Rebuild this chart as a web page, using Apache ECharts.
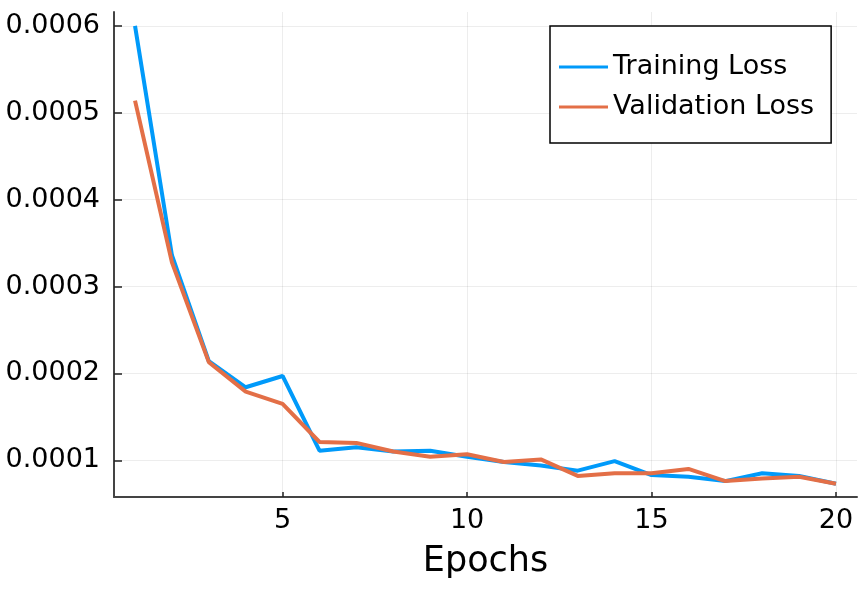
<!DOCTYPE html>
<html>
<head>
<meta charset="utf-8">
<script src="https://cdn.jsdelivr.net/npm/echarts@6/dist/echarts.min.js"></script>
<style>
html,body{margin:0;padding:0;background:#fff;}
#chart{width:866px;height:590px;}
</style>
</head>
<body>
<div id="chart"></div>
<script>
const epochs = [1,2,3,4,5,6,7,8,9,10,11,12,13,14,15,16,17,18,19,20];
const trainingLoss = [0.000600, 0.000336, 0.000214, 0.000184, 0.000197, 0.000111, 0.000115, 0.000110, 0.000111, 0.000104, 0.000098, 0.000094, 0.000088, 0.000099, 0.000083, 0.000081, 0.000076, 0.000085, 0.000082, 0.000073];
const validationLoss = [0.000514, 0.000328, 0.000213, 0.000179, 0.000165, 0.000121, 0.000120, 0.000110, 0.000104, 0.000107, 0.000098, 0.000101, 0.000082, 0.000085, 0.000085, 0.000090, 0.000076, 0.000079, 0.000081, 0.000073];
const xTicks = [5, 10, 15, 20];
const yTicks = [0.0001, 0.0002, 0.0003, 0.0004, 0.0005, 0.0006];
const seriesNames = ['Training Loss', 'Validation Loss'];
const xLabel = 'Epochs';

const FONT = 'DejaVu Sans';
const chart = echarts.init(document.getElementById('chart'), null, {renderer: 'canvas'});
chart.setOption({
  backgroundColor: '#ffffff',
  animation: false,
  grid: {left: 114, right: 9, top: 12, bottom: 93, containLabel: false},
  legend: {
    orient: 'vertical',
    left: 550, top: 26,
    padding: [26, 17, 21, 9],
    itemGap: 10,
    itemWidth: 49, itemHeight: 3,
    itemTextGap: 13,
    icon: 'rect',
    borderColor: '#000', borderWidth: 1.5,
    backgroundColor: '#fff',
    textStyle: {fontFamily: FONT, fontSize: 27, color: '#000', lineHeight: 30},
    data: seriesNames
  },
  xAxis: {
    type: 'value',
    min: 0.43, max: 20.57,
    name: xLabel,
    nameLocation: 'middle',
    nameGap: 47,
    nameTextStyle: {fontFamily: FONT, fontSize: 35, color: '#000'},
    axisLine: {show: true, onZero: false, lineStyle: {color: '#444', width: 2}},
    axisTick: {show: true, inside: true, length: 5, customValues: xTicks, lineStyle: {color: '#222', width: 1.5}},
    axisLabel: {customValues: xTicks, margin: 10, fontFamily: FONT, fontSize: 27, color: '#000'},
    splitLine: {show: true, lineStyle: {color: 'rgba(0,0,0,0.07)', width: 1}}
  },
  yAxis: {
    type: 'value',
    min: 0.0000577, max: 0.000616,
    axisLine: {show: true, onZero: false, lineStyle: {color: '#444', width: 2}},
    axisTick: {show: true, inside: true, length: 8, customValues: yTicks, lineStyle: {color: '#222', width: 1.5}},
    axisLabel: {customValues: yTicks, margin: 14, fontFamily: FONT, fontSize: 27, color: '#000',
      formatter: v => v.toFixed(4)},
    splitLine: {show: true, lineStyle: {color: 'rgba(0,0,0,0.07)', width: 1}}
  },
  series: [
    {name: seriesNames[0], type: 'line', symbol: 'none', color: '#009AFA',
     lineStyle: {width: 4, color: '#009AFA'},
     data: epochs.map((e, i) => [e, trainingLoss[i]])},
    {name: seriesNames[1], type: 'line', symbol: 'none', color: '#E36F47',
     lineStyle: {width: 4, color: '#E36F47'},
     data: epochs.map((e, i) => [e, validationLoss[i]])}
  ]
});
</script>
</body>
</html>
